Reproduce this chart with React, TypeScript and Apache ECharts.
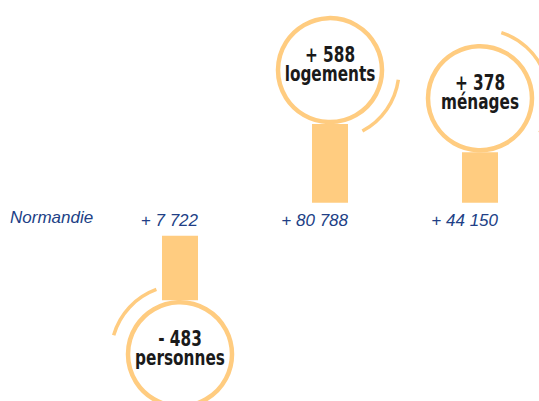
import React, { useEffect, useRef } from "react";
import * as echarts from "echarts";

// Data
const categories = ["personnes", "logements", "ménages"];
const variations = [-483, 588, 378];
const regionTotals = ["+ 7 722", "+ 80 788", "+ 44 150"];
const regionLabel = "Normandie";

// Decoration (outer arc angles in degrees, screen convention)
const arcAngles: [number, number][] = [
  [196, 250],
  [8, 62],
  [-72, 30],
];

const ORANGE = "#FFCC80";
const NAVY = "#213F86";
const CONDENSED = "'Liberation Sans Narrow', 'DejaVu Sans Condensed', 'Arial Narrow', sans-serif";
const ITALIC = "'Liberation Sans', Arial, sans-serif";

function fmt(v: number) {
  return (v < 0 ? "- " : "+ ") + Math.abs(v);
}

export default function App() {
  const ref = useRef<HTMLDivElement>(null);
  useEffect(() => {
    if (!ref.current) return;
    const chart = echarts.init(ref.current, undefined, { renderer: "svg" });
    const GAP = 16.5;
    const BAR_W = 36;
    const R = 52;
    const ARC_R = 69;
    const inner = (text: string, x: number, y: number) => ({
      type: "text",
      x,
      y,
      scaleX: 0.83,
      style: {
        text,
        x: 0,
        y: 0,
        align: "center",
        verticalAlign: "middle",
        fill: "#1a1a1a",
        fontSize: 20.5,
        fontWeight: "bold",
        fontFamily: CONDENSED,
      },
    });
    chart.setOption({
      animation: false,
      grid: { left: 180, right: 59, top: 0, bottom: 0 },
      xAxis: { type: "category", data: categories, boundaryGap: false, show: false },
      yAxis: { type: "value", min: -1360, max: 1640, show: false },
      graphic: [
        {
          type: "text",
          left: 10,
          top: 209,
          style: {
            text: regionLabel,
            fill: NAVY,
            fontSize: 17,
            fontStyle: "italic",
            fontFamily: ITALIC,
          },
        },
      ],
      series: [
        {
          type: "custom",
          data: variations.map((v, i) => [i, v]),
          renderItem: (params: any, api: any) => {
            const i = api.value(0);
            const v = api.value(1);
            const zero = api.coord([i, 0]);
            const end = api.coord([i, v]);
            const cx = zero[0];
            const sign = v >= 0 ? -1 : 1;
            const base = zero[1] + sign * GAP;
            const top = end[1] + sign * GAP;
            const cy = top + sign * (R + 2);
            const [a0, a1] = arcAngles[i];
            return {
              type: "group",
              children: [
                {
                  type: "rect",
                  shape: { x: cx - BAR_W / 2, y: Math.min(base, top), width: BAR_W, height: Math.abs(top - base) },
                  style: { fill: ORANGE },
                },
                {
                  type: "arc",
                  shape: {
                    cx,
                    cy,
                    r: ARC_R,
                    startAngle: (a0 * Math.PI) / 180,
                    endAngle: (a1 * Math.PI) / 180,
                    clockwise: true,
                  },
                  style: { stroke: ORANGE, lineWidth: 3.5, fill: "none" },
                },
                {
                  type: "circle",
                  shape: { cx, cy, r: R },
                  style: { fill: "#ffffff", stroke: ORANGE, lineWidth: 4.5 },
                },
                inner(fmt(v), cx, cy - 15),
                inner(categories[i], cx, cy + 4),
                {
                  type: "text",
                  style: {
                    text: regionTotals[i],
                    x: cx + BAR_W / 2,
                    y: zero[1] + 1,
                    align: "right",
                    verticalAlign: "middle",
                    fill: NAVY,
                    fontSize: 17,
                    fontStyle: "italic",
                    fontFamily: ITALIC,
                  },
                },
              ],
            };
          },
        },
      ],
    });
    return () => chart.dispose();
  }, []);
  return (
    <div style={{ position: "absolute", left: 0, top: 0, width: 539, height: 401, background: "#fff" }}>
      <div ref={ref} style={{ width: 539, height: 401 }} />
    </div>
  );
}
